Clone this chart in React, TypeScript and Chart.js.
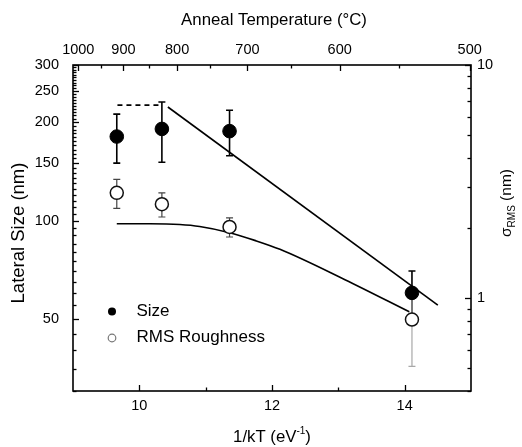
import React, { useEffect, useRef } from 'react';
import { Chart, registerables } from 'chart.js';

Chart.register(...registerables);

// ---- data ----
const invKT = [9.66, 10.34, 11.36, 14.11];
const lateralSize = [181, 191, 188, 60];
const lateralSizeErr = [31, 40, 30, 10];
const rmsRoughness = [2.83, 2.53, 2.02, 0.81];
const rmsRoughnessErr = [0.4, 0.3, 0.19, 0.3];
const rmsErrColors = ['#444444', '#444444', '#444444', '#a8a8a8'];

const sizeFitX = [10.43, 14.5];
const sizeFitY = [223, 55];
const plateauX = [9.67, 10.34];
const plateauY = [226, 226];
const rmsFitX = [9.66, 10.16, 10.61, 10.91, 11.36, 11.74, 12.12, 13.1, 14.07];
const rmsFitY = [2.085, 2.085, 2.07, 2.03, 1.91, 1.77, 1.62, 1.2, 0.874];

// ---- ticks ----
const bottomMajor = [10, 12, 14];
const bottomMinor = [11, 13];
const topTempLabels = ['1000', '900', '800', '700', '600', '500'];
const topTempPos = [9.08, 9.76, 10.57, 11.63, 13.02, 14.98];
const topMinorPos = [9.42, 10.15, 11.07, 12.28, 13.91];
const leftMajor = [50, 100, 150, 200, 250, 300];
const leftMinorStep = 5;
const rightMajor = [1, 10];
const rightMinor = [0.4, 0.5, 0.6, 0.7, 0.8, 0.9, 2, 3, 4, 5, 6, 7, 8, 9];

const FONT = "'Liberation Sans', Arial, Helvetica, sans-serif";

const leftMinor: number[] = [];
for (let v = 30; v <= 300; v += leftMinorStep) if (!leftMajor.includes(v)) leftMinor.push(v);

const errorBarPlugin = {
  id: 'errorBars',
  beforeDatasetsDraw(chart: any) {
    const ctx = chart.ctx;
    chart.data.datasets.forEach((ds: any, i: number) => {
      if (!ds.errors) return;
      const meta = chart.getDatasetMeta(i);
      const ys = chart.scales[ds.yAxisID];
      ctx.save();
      ds.errors.forEach((e: number, j: number) => {
        const v = ds.data[j].y;
        const x = meta.data[j].x;
        const yHi = ys.getPixelForValue(v + e);
        const yLo = ys.getPixelForValue(v - e);
        ctx.strokeStyle = ds.errorColors ? ds.errorColors[j] : '#000';
        ctx.lineWidth = ds.errorWidth || 1.5;
        ctx.beginPath();
        ctx.moveTo(x, yHi);
        ctx.lineTo(x, yLo);
        ctx.moveTo(x - 3.5, yHi);
        ctx.lineTo(x + 3.5, yHi);
        ctx.moveTo(x - 3.5, yLo);
        ctx.lineTo(x + 3.5, yLo);
        ctx.stroke();
      });
      ctx.restore();
    });
  },
};

const framePlugin = {
  id: 'frameAndText',
  afterDraw(chart: any) {
    const { ctx, chartArea: a, scales } = chart;
    ctx.save();
    ctx.strokeStyle = '#000';
    ctx.lineWidth = 1.3;
    const vTicks = (scale: any, vals: number[], len: number, y: number, dir: number) => {
      vals.forEach((v) => {
        const x = Math.round(scale.getPixelForValue(v)) + 0.5;
        ctx.beginPath();
        ctx.moveTo(x, y);
        ctx.lineTo(x, y + dir * len);
        ctx.stroke();
      });
    };
    const hTicks = (scale: any, vals: number[], len: number, x: number, dir: number) => {
      vals.forEach((v) => {
        const y = Math.round(scale.getPixelForValue(v)) + 0.5;
        ctx.beginPath();
        ctx.moveTo(x, y);
        ctx.lineTo(x + dir * len, y);
        ctx.stroke();
      });
    };
    vTicks(scales.x, bottomMajor, 6, a.bottom, -1);
    vTicks(scales.x, bottomMinor, 3.5, a.bottom, -1);
    vTicks(scales.xTop, topTempPos, 6, a.top, 1);
    vTicks(scales.xTop, topMinorPos, 3.5, a.top, 1);
    hTicks(scales.y, leftMajor, 6, a.left, 1);
    hTicks(scales.y, leftMinor, 3.5, a.left, 1);
    hTicks(scales.y2, rightMajor, 6, a.right, -1);
    hTicks(scales.y2, rightMinor, 3.5, a.right, -1);

    ctx.lineWidth = 1.6;
    ctx.strokeRect(a.left, a.top, a.right - a.left, a.bottom - a.top);

    // titles
    const cx = (a.left + a.right) / 2;
    ctx.fillStyle = '#000';
    ctx.textBaseline = 'middle';
    ctx.textAlign = 'center';
    ctx.font = `16.8px ${FONT}`;
    ctx.fillText('Anneal Temperature (\u00B0C)', cx + 2, 20);

    // bottom title with superscript
    const main1 = '1/kT (eV';
    const sup = '-1';
    const close = ')';
    ctx.font = `16.8px ${FONT}`;
    const w1 = ctx.measureText(main1).width;
    const wc = ctx.measureText(close).width;
    ctx.font = `10px ${FONT}`;
    const ws = ctx.measureText(sup).width;
    let bx = cx - (w1 + ws + wc) / 2;
    const by = 437;
    ctx.textAlign = 'left';
    ctx.font = `16.8px ${FONT}`;
    ctx.fillText(main1, bx, by);
    bx += w1;
    ctx.font = `10px ${FONT}`;
    ctx.fillText(sup, bx, by - 6);
    bx += ws;
    ctx.font = `16.8px ${FONT}`;
    ctx.fillText(close, bx, by);

    // left title
    ctx.save();
    ctx.translate(19, 233);
    ctx.rotate(-Math.PI / 2);
    ctx.textAlign = 'center';
    ctx.font = `18.5px ${FONT}`;
    ctx.fillText('Lateral Size (nm)', 0, 0);
    ctx.restore();

    // right title with subscript
    ctx.save();
    ctx.translate(507, 203);
    ctx.rotate(-Math.PI / 2);
    const s1 = '\u03C3';
    const sub = 'RMS';
    const s2 = ' (nm)';
    ctx.font = `15.5px ${FONT}`;
    const ws1 = ctx.measureText(s1).width;
    const ws2 = ctx.measureText(s2).width;
    ctx.font = `10px ${FONT}`;
    const wsub = ctx.measureText(sub).width;
    let rx = -(ws1 + wsub + ws2) / 2;
    ctx.textAlign = 'left';
    ctx.font = `15.5px ${FONT}`;
    ctx.fillText(s1, rx, 0);
    rx += ws1;
    ctx.font = `10px ${FONT}`;
    ctx.fillText(sub, rx, 5);
    rx += wsub;
    ctx.font = `15.5px ${FONT}`;
    ctx.fillText(s2, rx, 0);
    ctx.restore();

    // legend
    const ds0 = chart.data.datasets[0];
    const ds1 = chart.data.datasets[1];
    const lx = a.left + 39;
    const ly0 = a.top + 246.5;
    const ly1 = a.top + 273;
    ctx.beginPath();
    ctx.arc(lx, ly0, 4, 0, Math.PI * 2);
    ctx.fillStyle = '#000';
    ctx.fill();
    ctx.beginPath();
    ctx.arc(lx, ly1, 3.8, 0, Math.PI * 2);
    ctx.fillStyle = '#fff';
    ctx.fill();
    ctx.strokeStyle = '#777';
    ctx.lineWidth = 1.2;
    ctx.stroke();
    ctx.fillStyle = '#000';
    ctx.font = `17px ${FONT}`;
    ctx.textAlign = 'left';
    ctx.textBaseline = 'middle';
    ctx.fillText(ds0.label, lx + 24.5, ly0);
    ctx.fillText(ds1.label, lx + 24.5, ly1 - 1);
    ctx.restore();
  },
};

const tickFont = { family: FONT, size: 14.5 };

export default function App() {
  const ref = useRef<HTMLCanvasElement>(null);
  useEffect(() => {
    if (!ref.current) return;
    const pts = (xs: number[], ys: number[]) => xs.map((x, i) => ({ x, y: ys[i] }));
    const chart = new Chart(ref.current, {
      type: 'scatter',
      data: {
        datasets: [
          {
            label: 'Size',
            data: pts(invKT, lateralSize),
            yAxisID: 'y',
            xAxisID: 'x',
            pointRadius: 6.8,
            pointBackgroundColor: '#000',
            pointBorderColor: '#000',
            pointBorderWidth: 1,
            showLine: false,
            errors: lateralSizeErr,
            errorWidth: 1.6,
          } as any,
          {
            label: 'RMS Roughness',
            data: pts(invKT, rmsRoughness),
            yAxisID: 'y2',
            xAxisID: 'x',
            pointRadius: 6.5,
            pointBackgroundColor: '#fff',
            pointBorderColor: '#111',
            pointBorderWidth: 1.5,
            showLine: false,
            errors: rmsRoughnessErr,
            errorColors: rmsErrColors,
            errorWidth: 1.2,
          } as any,
          {
            label: 'size fit',
            data: pts(sizeFitX, sizeFitY),
            yAxisID: 'y',
            xAxisID: 'x',
            showLine: true,
            pointRadius: 0,
            borderColor: '#000',
            borderWidth: 1.6,
          },
          {
            label: 'plateau',
            data: pts(plateauX, plateauY),
            yAxisID: 'y',
            xAxisID: 'x',
            showLine: true,
            pointRadius: 0,
            borderColor: '#000',
            borderWidth: 1.6,
            borderDash: [5, 4],
          },
          {
            label: 'rms fit',
            data: pts(rmsFitX, rmsFitY),
            yAxisID: 'y2',
            xAxisID: 'x',
            showLine: true,
            pointRadius: 0,
            borderColor: '#000',
            borderWidth: 1.6,
            cubicInterpolationMode: 'monotone',
          },
        ],
      },
      options: {
        animation: false,
        responsive: false,
        devicePixelRatio: 1,
        layout: { padding: 0 },
        plugins: { legend: { display: false }, tooltip: { enabled: false } },
        scales: {
          x: {
            type: 'linear',
            position: 'bottom',
            min: 9,
            max: 15,
            afterBuildTicks: (s: any) => {
              s.ticks = bottomMajor.map((v) => ({ value: v }));
            },
            afterFit: (s: any) => {
              s.height = 56;
            },
            ticks: { callback: (v: any) => String(v), font: tickFont, color: '#000', padding: 6, maxRotation: 0, autoSkip: false },
            grid: { display: false, drawTicks: false },
            border: { display: false },
          },
          xTop: {
            type: 'linear',
            position: 'top',
            min: 9,
            max: 15,
            afterBuildTicks: (s: any) => {
              s.ticks = topTempPos.map((v) => ({ value: v }));
            },
            afterFit: (s: any) => {
              s.height = 65;
            },
            ticks: { callback: (_v: any, i: number) => topTempLabels[i], font: tickFont, color: '#000', padding: 6, maxRotation: 0, autoSkip: false },
            grid: { display: false, drawTicks: false },
            border: { display: false },
          },
          y: {
            type: 'logarithmic',
            position: 'left',
            min: 30,
            max: 300,
            afterBuildTicks: (s: any) => {
              s.ticks = leftMajor.map((v) => ({ value: v }));
            },
            afterFit: (s: any) => {
              s.width = 73;
            },
            ticks: { callback: (v: any) => String(v), font: tickFont, color: '#000', padding: 14, autoSkip: false },
            grid: { display: false, drawTicks: false },
            border: { display: false },
          },
          y2: {
            type: 'logarithmic',
            position: 'right',
            min: 0.4,
            max: 10,
            afterBuildTicks: (s: any) => {
              s.ticks = rightMajor.map((v) => ({ value: v }));
            },
            afterFit: (s: any) => {
              s.width = 51;
            },
            ticks: { callback: (v: any) => String(v), font: tickFont, color: '#000', padding: 6, autoSkip: false },
            grid: { display: false, drawTicks: false },
            border: { display: false },
          },
        },
      } as any,
      plugins: [errorBarPlugin, framePlugin],
    });
    return () => chart.destroy();
  }, []);
  return (
    <div style={{ position: 'fixed', left: 0, top: 0, width: 522, height: 447, background: '#fff' }}>
      <canvas ref={ref} width={522} height={447} style={{ display: 'block' }} />
    </div>
  );
}
